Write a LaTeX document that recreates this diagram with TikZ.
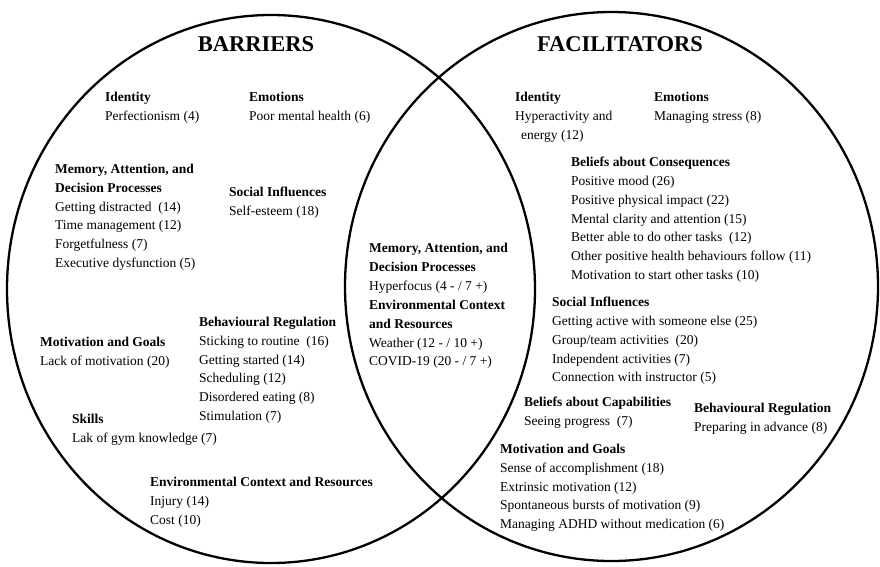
\documentclass[tikz,border=0pt]{standalone}
\usepackage{fontspec}
\setmainfont{Liberation Serif}
\begin{document}
\begin{tikzpicture}[
        x=1pt, y=-1pt,
        ring/.style={line width=2.3pt},
        heading/.style={inner sep=0pt, font=\fontsize{22.5}{26}\selectfont\bfseries},
        factor/.style={anchor=north west, align=left, inner sep=0pt, font=\fontsize{13.5}{18.8}\selectfont}
    ]
    \useasboundingbox (0,0) rectangle (880,566);
    \draw[ring] (271,289) ellipse [x radius=264pt, y radius=274pt];
    \draw[ring] (611.5,286.5) ellipse [x radius=266.5pt, y radius=274.5pt];

    \node[heading] (barriers) at (256,44) {BARRIERS};
    \node[heading] (facilitators) at (620,44) {FACILITATORS};

    \node[factor] (bident) at (105,92) {\textbf{Identity}\\Perfectionism (4)};
    \node[factor] (bemot) at (249,92) {\textbf{Emotions}\\Poor mental health (6)};
    \node[factor] (bmem) at (55,164) {\textbf{Memory, Attention, and}\\\textbf{Decision Processes}\\Getting distracted~ (14)\\Time management (12)\\Forgetfulness (7)\\Executive dysfunction (5)};
    \node[factor] (bsocial) at (229,187) {\textbf{Social Influences}\\Self-esteem (18)};
    \node[factor] (bbehav) at (199,317) {\textbf{Behavioural Regulation}\\Sticking to routine~ (16)\\Getting started (14)\\Scheduling (12)\\Disordered eating (8)\\Stimulation (7)};
    \node[factor] (bmotiv) at (40,337) {\textbf{Motivation and Goals}\\Lack of motivation (20)};
    \node[factor] (bskills) at (72,414) {\textbf{Skills}\\Lak of gym knowledge (7)};
    \node[factor] (benv) at (150,477) {\textbf{Environmental Context and Resources}\\Injury (14)\\Cost (10)};

    \node[factor] (cmem) at (369,243) {\textbf{Memory, Attention, and}\\\textbf{Decision Processes}\\Hyperfocus (4 - / 7 +)};
    \node[factor] (cenv) at (369,300) {\textbf{Environmental Context}\\\textbf{and Resources}\\Weather (12 - / 10 +)\\COVID-19 (20 - / 7 +)};

    \node[factor] (fident) at (515,92) {\textbf{Identity}\\Hyperactivity and\\\hspace*{6pt}energy (12)};
    \node[factor] (femot) at (654,92) {\textbf{Emotions}\\Managing stress (8)};
    \node[factor] (fcons) at (571,157) {\textbf{Beliefs about Consequences}\\Positive mood (26)\\Positive physical impact (22)\\Mental clarity and attention (15)\\Better able to do other tasks~ (12)\\Other positive health behaviours follow (11)\\Motivation to start other tasks (10)};
    \node[factor] (fsocial) at (552,297) {\textbf{Social Influences}\\Getting active with someone else (25)\\Group/team activities~ (20)\\Independent activities (7)\\Connection with instructor (5)};
    \node[factor] (fcap) at (524,397) {\textbf{Beliefs about Capabilities}\\Seeing progress~ (7)};
    \node[factor] (fbehav) at (694,403) {\textbf{Behavioural Regulation}\\Preparing in advance (8)};
    \node[factor] (fmotiv) at (500,444) {\textbf{Motivation and Goals}\\Sense of accomplishment (18)\\Extrinsic motivation (12)\\Spontaneous bursts of motivation (9)\\Managing ADHD without medication (6)};
\end{tikzpicture}
\end{document}
